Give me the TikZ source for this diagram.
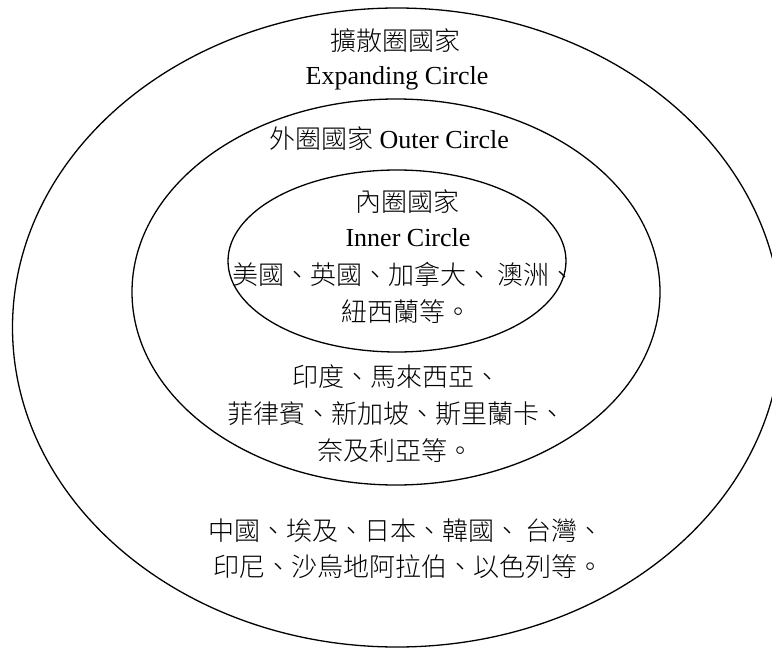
\documentclass[tikz,border=0pt]{standalone}
\usepackage{fontspec}
\setmainfont{Liberation Serif}
\newfontfamily\cjk{Noto Sans CJK TC}[UprightFont={* Light}]
\tikzset{
  ring/.style={draw=black, line width=1.3pt},
  lbl/.style={anchor=base, inner sep=0pt, font=\fontsize{26}{37}\selectfont}
}
\begin{document}
\begin{tikzpicture}[x=1pt,y=-1pt]
\useasboundingbox (0,0) rectangle (772,648);
\begin{scope}
\clip (0,0) rectangle (772,648);
\draw[ring] (397,327.5) ellipse [x radius=384.5, y radius=319.5];
\end{scope}
\draw[ring] (396,292) ellipse [x radius=264, y radius=193];
\draw[ring] (397,261) ellipse [x radius=169, y radius=91];

\node[lbl] (e1) at (395,50) {\cjk 擴散圈國家};
\node[lbl] (e2) at (397,84) {Expanding Circle};
\node[lbl] (o1) at (389,148) {{\cjk 外圈國家} Outer Circle};
\node[lbl] (i1) at (407,211) {\cjk 內圈國家};
\node[lbl] (i2) at (408,246) {Inner Circle};
\node[lbl] (i3) at (404,284) {\cjk 美國、英國、加拿大、 澳洲、};
\node[lbl] (i4) at (406,321) {\cjk 紐西蘭等。};
\node[lbl] (o2) at (396,386) {\cjk 印度、馬來西亞、};
\node[lbl] (o3) at (396,423) {\cjk 菲律賓、新加坡、斯里蘭卡、};
\node[lbl] (o4) at (395,460) {\cjk 奈及利亞等。};
\node[lbl] (e3) at (406,540) {\cjk 中國、埃及、日本、韓國、 台灣、};
\node[lbl] (e4) at (408,576) {\cjk 印尼、沙烏地阿拉伯、以色列等。};
\end{tikzpicture}
\end{document}
